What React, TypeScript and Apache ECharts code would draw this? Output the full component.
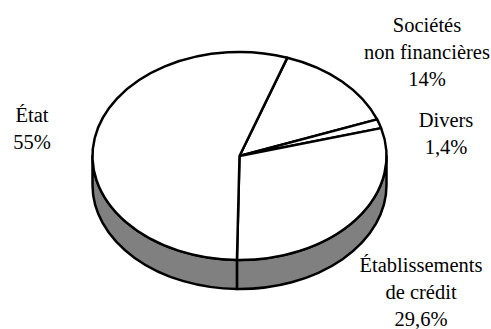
import React, { useEffect, useRef } from "react";
import * as echarts from "echarts";

// Holders of the debt, in percent, clockwise from the first slice.
const categories = ["Sociétés non financières", "Divers", "Établissements de crédit", "État"];
const shares = [14, 1.4, 29.6, 55];
const startClockAngle = 19;

const labelLines = [
  ["Sociétés", "non financières", "14%"],
  ["Divers", "1,4%"],
  ["Établissements", "de crédit", "29,6%"],
  ["État", "55%"],
];

const CX = 239.5;
const CY = 156;
const RX = 147;
const RY = 104;
const DEPTH = 29;
const STROKE = 2.5;
const LINE_STEP = 27;
const labelAnchors = [
  { x: 427, y: 25 },
  { x: 446, y: 120 },
  { x: 421, y: 265 },
  { x: 32, y: 115 },
];

const rad = (deg: number) => (deg * Math.PI) / 180;
const rimPoint = (deg: number, dy = 0) =>
  [CX + RX * Math.sin(rad(deg)), CY - RY * Math.cos(rad(deg)) + dy] as const;

// Clock-angle span of every slice, accumulated from the shares.
const total = shares.reduce((a, b) => a + b, 0);
const spans = shares.map((_, i) => {
  const before = shares.slice(0, i).reduce((a, b) => a + b, 0);
  return [
    startClockAngle + (before / total) * 360,
    startClockAngle + ((before + shares[i]) / total) * 360,
  ];
});

function topPath(a1: number, a2: number) {
  const [x1, y1] = rimPoint(a1);
  const [x2, y2] = rimPoint(a2);
  const large = a2 - a1 > 180 ? 1 : 0;
  return `M${CX} ${CY}L${x1} ${y1}A${RX} ${RY} 0 ${large} 1 ${x2} ${y2}Z`;
}

// Only the part of the rim between 3 and 9 o'clock shows a side wall.
function wallPath(a1: number, a2: number) {
  const from = Math.max(a1, 90);
  const to = Math.min(a2, 270);
  if (to <= from) return "";
  const [x1, y1] = rimPoint(from);
  const [x2, y2] = rimPoint(to);
  return (
    `M${x1} ${y1}A${RX} ${RY} 0 0 1 ${x2} ${y2}` +
    `L${x2} ${y2 + DEPTH}A${RX} ${RY} 0 0 0 ${x1} ${y1 + DEPTH}Z`
  );
}

export default function App() {
  const ref = useRef<HTMLDivElement>(null);

  useEffect(() => {
    document.body.style.margin = "0";
    const chart = echarts.init(ref.current!, undefined, { renderer: "svg" });
    const drawStyle = { stroke: "#000", lineWidth: STROKE, lineJoin: "round" };

    chart.setOption({
      animation: false,
      backgroundColor: "#fff",
      series: [
        {
          type: "custom",
          name: "Paroi",
          coordinateSystem: "none",
          silent: true,
          data: shares.map((v, i) => ({ name: categories[i], value: [v, i] })),
          renderItem: (_p: unknown, api: any) => {
            const [a1, a2] = spans[api.value(1)];
            const pathData = wallPath(a1, a2);
            if (!pathData) return { type: "group", children: [] };
            return { type: "path", shape: { pathData }, style: { ...drawStyle, fill: "#808080" } };
          },
        },
        {
          type: "custom",
          name: "Parts",
          coordinateSystem: "none",
          silent: true,
          data: shares.map((v, i) => ({ name: categories[i], value: [v, i] })),
          renderItem: (_p: unknown, api: any) => {
            const [a1, a2] = spans[api.value(1)];
            return {
              type: "path",
              shape: { pathData: topPath(a1, a2) },
              style: { ...drawStyle, fill: "#fff" },
            };
          },
        },
      ],
      graphic: labelLines.flatMap((lines, i) =>
        lines.map((text, j) => ({
          type: "text",
          x: labelAnchors[i].x,
          y: labelAnchors[i].y + j * LINE_STEP,
          style: {
            text,
            fill: "#000",
            font: "20.5px 'Liberation Serif', 'Times New Roman', serif",
            align: "center",
            verticalAlign: "middle",
          },
        }))
      ),
    });
    return () => chart.dispose();
  }, []);

  return <div ref={ref} style={{ width: 491, height: 329 }} />;
}
